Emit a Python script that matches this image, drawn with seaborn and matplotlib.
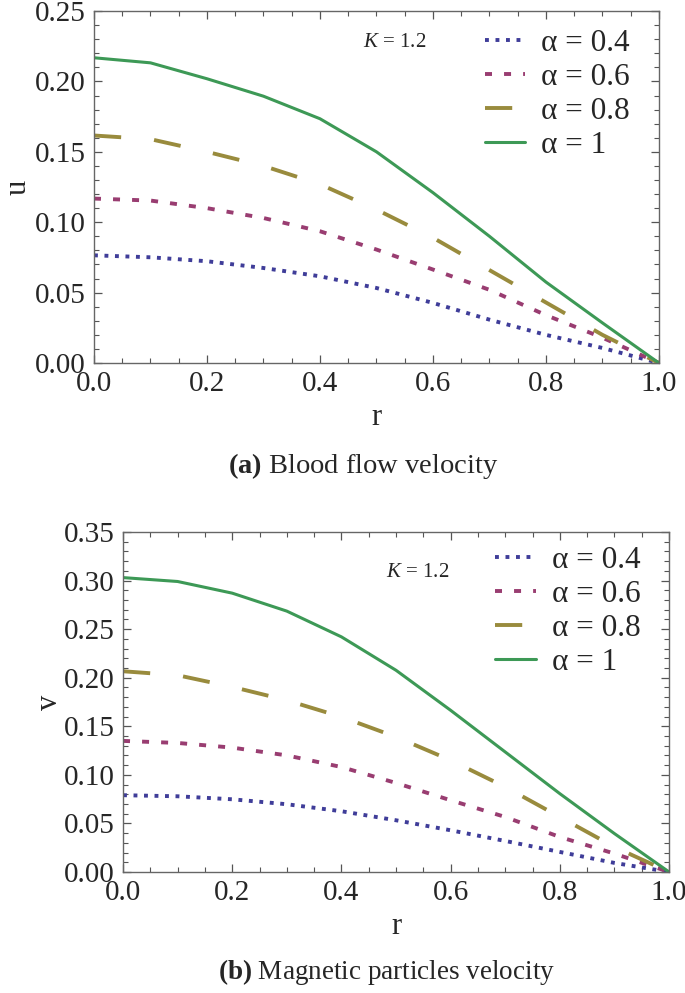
import numpy as np
import pandas as pd
import matplotlib
matplotlib.use("Agg")
import matplotlib.pyplot as plt
from matplotlib.ticker import MultipleLocator
import seaborn as sns

# values
r = [0.0, 0.1, 0.2, 0.3, 0.4, 0.5, 0.6, 0.7, 0.8, 0.9, 1.0]
alpha_labels = ["α = 0.4", "α = 0.6", "α = 0.8", "α = 1"]

# (a) blood flow velocity u
u_04 = [0.0765, 0.0751, 0.0723, 0.0675, 0.0616, 0.0533, 0.0427, 0.0308, 0.0200, 0.0107, 0.0]
u_06 = [0.1168, 0.1154, 0.1100, 0.1030, 0.0936, 0.0806, 0.0664, 0.0520, 0.0340, 0.0180, 0.0]
u_08 = [0.1616, 0.1590, 0.1500, 0.1400, 0.1270, 0.1090, 0.0890, 0.0660, 0.0430, 0.0200, 0.0]
u_10 = [0.2168, 0.2132, 0.2019, 0.1895, 0.1735, 0.1500, 0.1210, 0.0900, 0.0575, 0.0285, 0.0]

# (b) magnetic particles velocity v
v_04 = [0.0790, 0.0779, 0.0748, 0.0697, 0.0625, 0.0532, 0.0429, 0.0319, 0.0206, 0.0093, 0.0]
v_06 = [0.1349, 0.1328, 0.1280, 0.1200, 0.1080, 0.0916, 0.0738, 0.0566, 0.0360, 0.0189, 0.0]
v_08 = [0.2066, 0.2025, 0.1905, 0.1767, 0.1596, 0.1390, 0.1150, 0.0875, 0.0566, 0.0257, 0.0]
v_10 = [0.3030, 0.2990, 0.2870, 0.2685, 0.2420, 0.2076, 0.1664, 0.1235, 0.0806, 0.0395, 0.0]

palette = {
    "α = 0.4": (0.2472, 0.24, 0.6),
    "α = 0.6": (0.6, 0.24, 0.4429),
    "α = 0.8": (0.6, 0.547, 0.24),
    "α = 1": (0.24, 0.6, 0.337),
}
dashes = {
    "α = 0.4": (1.0, 1.7),
    "α = 0.6": (1.8, 3.1),
    "α = 0.8": (7.0, 8.5),
    "α = 1": "",
}

sns.set_style("ticks")
plt.rcParams["font.family"] = ["Liberation Serif", "DejaVu Serif"]
plt.rcParams["mathtext.fontset"] = "custom"
plt.rcParams["mathtext.rm"] = "Liberation Serif"
plt.rcParams["mathtext.it"] = "Liberation Serif:italic"
plt.rcParams["mathtext.bf"] = "Liberation Serif:bold"


def make_long(series, name):
    rows = []
    for lab, vals in zip(alpha_labels, series):
        for x, y in zip(r, vals):
            rows.append({"r": x, name: y, "alpha": lab})
    return pd.DataFrame(rows)


def draw_panel(ax, df, name, ymax, ylab, k_pos, leg_anchor):
    sns.lineplot(
        data=df, x="r", y=name, hue="alpha", style="alpha",
        palette=palette, dashes=dashes, hue_order=alpha_labels,
        style_order=alpha_labels, linewidth=2.8, legend=False, ax=ax,
    )
    ax.lines[3].set_linewidth(2.2)
    ax.set_xlim(0, 1)
    ax.set_ylim(0, ymax)
    ax.xaxis.set_major_locator(MultipleLocator(0.2))
    ax.xaxis.set_minor_locator(MultipleLocator(0.05))
    ax.yaxis.set_major_locator(MultipleLocator(0.05))
    ax.yaxis.set_minor_locator(MultipleLocator(0.01))
    ax.xaxis.set_major_formatter(plt.FuncFormatter(lambda v, p: f"{v:.1f}"))
    ax.yaxis.set_major_formatter(plt.FuncFormatter(lambda v, p: f"{v:.2f}"))
    ax.tick_params(which="both", direction="in", top=True, right=True,
                   color="#555555", labelsize=21, pad=6)
    ax.tick_params(which="major", length=6, width=0.9)
    ax.tick_params(which="minor", length=3.5, width=0.8)
    for sp in ax.spines.values():
        sp.set_color("#666666")
        sp.set_linewidth(1.0)
    ax.set_xlabel("r", fontsize=22)
    ax.set_ylabel(ylab, fontsize=22)
    ax.yaxis.set_label_coords(-0.108, 0.5)
    ax.text(k_pos[0], k_pos[1], r"$K$ = 1.2", transform=ax.transAxes,
            fontsize=15, ha="center", va="center")
    ax.legend(handles=ax.lines[:4], labels=alpha_labels, loc="upper right",
              bbox_to_anchor=leg_anchor, frameon=False, fontsize=22.5,
              handlelength=1.3, handletextpad=0.5, labelspacing=0.16,
              borderaxespad=0.0)


fig = plt.figure(figsize=(6.85, 9.93), dpi=100)
ax_a = fig.add_axes([0.1372, 0.6344, 0.8248, 0.3545])
ax_b = fig.add_axes([0.1796, 0.1219, 0.7971, 0.3424])

df_u = make_long([u_04, u_06, u_08, u_10], "u")
df_v = make_long([v_04, v_06, v_08, v_10], "v")

draw_panel(ax_a, df_u, "u", 0.25, "u", (0.533, 0.91), (0.97, 0.985))
draw_panel(ax_b, df_v, "v", 0.35, "v", (0.54, 0.88), (0.97, 0.995))

fig.text(0.53, 1 - 466 / 993, r"$\mathbf{(a)}$ Blood flow velocity",
         fontsize=20.5, ha="center", va="center")
fig.text(0.565, 1 - 972 / 993, r"$\mathbf{(b)}$ Magnetic particles velocity",
         fontsize=19.5, ha="center", va="center")

fig.savefig("out.png", dpi=100)
